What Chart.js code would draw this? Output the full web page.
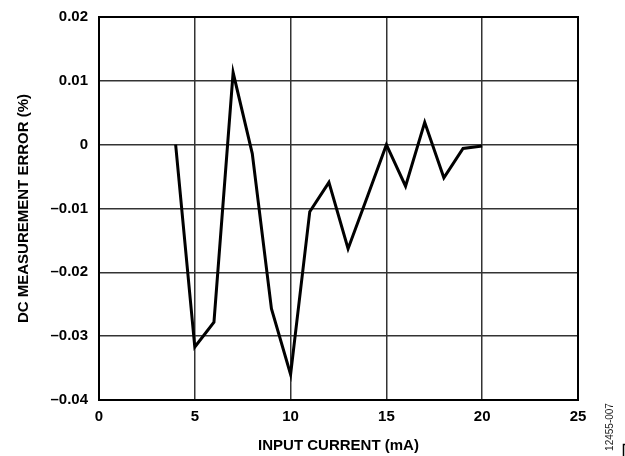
<!DOCTYPE html>
<html>
<head>
<meta charset="utf-8">
<script src="https://cdn.jsdelivr.net/npm/chart.js@4"></script>
<style>
  html, body { margin: 0; padding: 0; background: #fff; }
  #wrap { width: 625px; height: 456px; }
</style>
</head>
<body>
<div id="wrap"><canvas id="errChart" width="625" height="456"></canvas></div>
<script>
// values
const inputCurrent = [4, 5, 6, 7, 8, 9, 10, 11, 12, 13, 14, 15, 16, 17, 18, 19, 20];
const dcError = [0, -0.0317, -0.0278, 0.0113, -0.0014, -0.0257, -0.036, -0.0105, -0.0059, -0.0163, -0.0082, 0, -0.0065, 0.0035, -0.0052, -0.0006, -0.0002];
const xTicks = [0, 5, 10, 15, 20, 25];
const yTicks = [-0.04, -0.03, -0.02, -0.01, 0, 0.01, 0.02];
const figureId = "12455-007";

const fontFamily = "'Liberation Sans', Arial, sans-serif";

// box round the plot + figure number at the right
const framePlugin = {
  id: 'frame',
  afterDraw(chart) {
    const { ctx, chartArea: a } = chart;
    ctx.save();
    ctx.strokeStyle = '#000';
    ctx.lineWidth = 2;
    ctx.strokeRect(a.left, a.top, a.right - a.left, a.bottom - a.top);

    ctx.translate(610, 427);
    ctx.rotate(-Math.PI / 2);
    ctx.fillStyle = '#222';
    ctx.font = "10px " + fontFamily;
    ctx.textAlign = 'center';
    ctx.textBaseline = 'middle';
    ctx.fillText(figureId, 0, 0);
    ctx.restore();

    ctx.save();
    ctx.strokeStyle = '#000';
    ctx.lineWidth = 1.5;
    ctx.beginPath();
    ctx.moveTo(623.5, 456);
    ctx.lineTo(623.5, 444.5);
    ctx.lineTo(625, 444.5);
    ctx.stroke();
    ctx.restore();
  }
};

const ctx = document.getElementById('errChart').getContext('2d');
new Chart(ctx, {
  type: 'line',
  data: {
    datasets: [{
      data: inputCurrent.map((x, i) => ({ x: x, y: dcError[i] })),
      borderColor: '#000',
      borderWidth: 3,
      pointRadius: 0,
      tension: 0,
      fill: false
    }]
  },
  options: {
    responsive: false,
    animation: false,
    devicePixelRatio: 1,
    layout: { padding: { left: 0, right: 47, top: 17, bottom: 0 } },
    plugins: {
      legend: { display: false },
      tooltip: { enabled: false }
    },
    scales: {
      x: {
        type: 'linear',
        min: 0,
        max: 25,
        afterBuildTicks: axis => { axis.ticks = xTicks.map(v => ({ value: v })); },
        afterFit: axis => { axis.height = 56; axis.paddingLeft = 0; axis.paddingRight = 0; },
        grid: { color: '#333', lineWidth: 1.5, drawTicks: false },
        border: { display: false },
        ticks: {
          padding: 8,
          color: '#000',
          font: { family: fontFamily, size: 15, weight: 'bold' },
          callback: v => String(v)
        },
        title: {
          display: true,
          text: 'INPUT CURRENT (mA)',
          color: '#000',
          font: { family: fontFamily, size: 15, weight: 'bold' },
          padding: { top: 0, bottom: 1 }
        }
      },
      y: {
        min: -0.04,
        max: 0.02,
        afterBuildTicks: axis => { axis.ticks = yTicks.map(v => ({ value: v })); },
        afterFit: axis => { axis.width = 99; axis.paddingTop = 0; axis.paddingBottom = 0; },
        grid: { color: '#333', lineWidth: 1.5, drawTicks: false },
        border: { display: false },
        ticks: {
          padding: 11,
          color: '#000',
          font: { family: fontFamily, size: 15, weight: 'bold' },
          callback: v => {
            if (Math.abs(v) < 1e-9) return '0';
            const s = Math.abs(v).toFixed(2);
            return v < 0 ? '\u2013' + s : s;
          }
        },
        title: {
          display: true,
          text: 'DC MEASUREMENT ERROR (%)',
          color: '#000',
          font: { family: fontFamily, size: 15, weight: 'bold' },
          padding: { top: 15, bottom: 0 }
        }
      }
    }
  },
  plugins: [framePlugin]
});
</script>
</body>
</html>
